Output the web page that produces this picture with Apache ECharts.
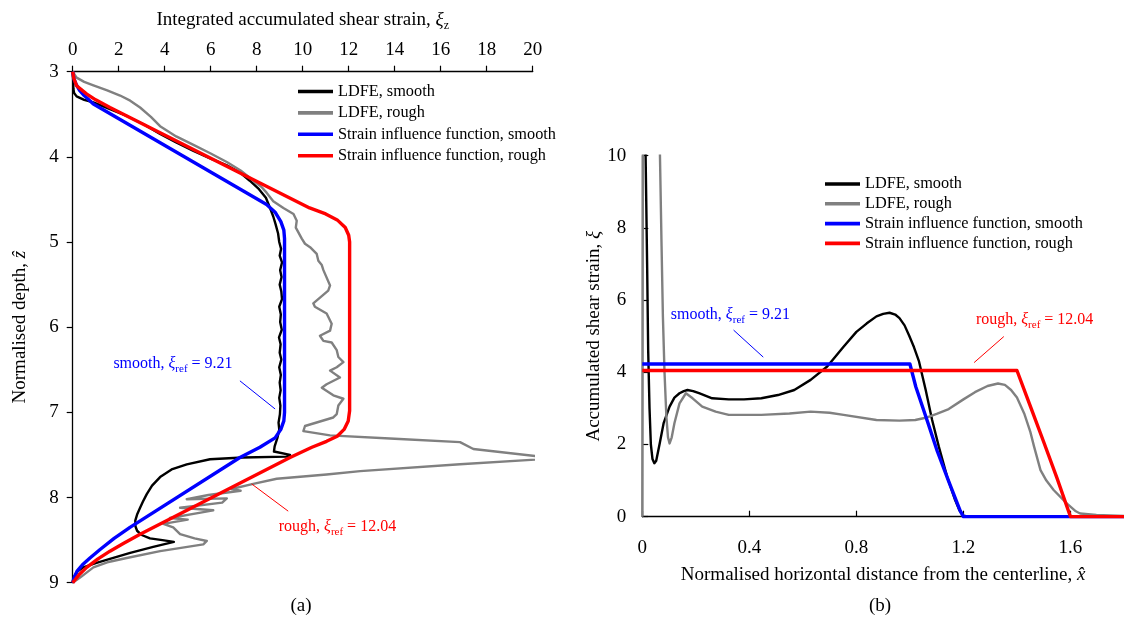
<!DOCTYPE html>
<html>
<head>
<meta charset="utf-8">
<script src="https://cdn.jsdelivr.net/npm/echarts@6/dist/echarts.min.js"></script>
<style>
html, body { margin: 0; padding: 0; background: #fff; }
#chart { width: 1124px; height: 619px; }
</style>
</head>
<body>
<div id="chart"></div>
<script>
// ---- series names and colours ----
const seriesNames = ['LDFE, smooth', 'LDFE, rough', 'Strain influence function, smooth', 'Strain influence function, rough'];
const seriesColors = ['#000000', '#808080', '#0000ff', '#ff0000'];

// ---- (a) integrated strain vs. normalised depth: [xi_z, z] ----
const aSmoothLDFE = [[0,3.0],[0.02,3.1],[0.03,3.2],[0.06,3.25],[0.17,3.29],[0.5,3.33],[0.9,3.36],[1.62,3.44],[2.35,3.52],[3.1,3.62],[3.8,3.73],[4.5,3.83],[5.25,3.93],[6.0,4.02],[6.7,4.1],[7.3,4.19],[7.7,4.28],[8.1,4.38],[8.4,4.48],[8.58,4.6],[8.72,4.7],[8.82,4.79],[8.93,4.9],[8.98,5.0],[9.06,5.08],[9.0,5.16],[9.1,5.24],[9.02,5.33],[9.08,5.41],[9.0,5.5],[9.07,5.58],[9.1,5.67],[8.98,5.76],[9.05,5.85],[9.02,5.94],[9.09,6.03],[8.97,6.12],[9.04,6.2],[9.0,6.3],[9.07,6.38],[8.98,6.47],[9.05,6.56],[9.0,6.65],[9.04,6.74],[8.98,6.83],[9.03,6.92],[9.01,7.02],[8.95,7.12],[8.98,7.2],[8.9,7.3],[8.78,7.4],[8.75,7.46],[9.45,7.5],[9.3,7.52],[7.4,7.53],[5.97,7.55],[4.96,7.61],[4.3,7.67],[3.8,7.76],[3.45,7.86],[3.22,7.96],[3.05,8.05],[2.93,8.12],[2.8,8.2],[2.72,8.27],[2.73,8.34],[2.8,8.39],[3.0,8.44],[3.36,8.48],[3.9,8.5],[4.4,8.52],[3.5,8.58],[2.5,8.65],[1.62,8.72],[1.0,8.77],[0.46,8.82],[0.2,8.87],[0.08,8.92],[0.02,8.96],[0,9.0]];
const aRoughLDFE = [[0,3.0],[0.17,3.07],[0.5,3.12],[0.9,3.16],[1.5,3.22],[2.06,3.28],[2.5,3.34],[2.93,3.42],[3.4,3.53],[3.8,3.64],[4.5,3.76],[5.25,3.86],[6.0,3.96],[6.7,4.06],[7.3,4.16],[7.86,4.28],[8.2,4.35],[8.43,4.42],[8.72,4.52],[9.16,4.6],[9.6,4.67],[9.74,4.75],[9.7,4.83],[9.96,4.96],[10.1,5.02],[10.32,5.06],[10.61,5.14],[10.68,5.22],[10.83,5.27],[10.9,5.33],[11.19,5.51],[11.11,5.57],[10.46,5.72],[10.53,5.76],[11.04,5.84],[11.26,5.96],[11.19,6.04],[10.75,6.1],[10.9,6.16],[11.26,6.18],[11.48,6.27],[11.55,6.35],[11.77,6.41],[11.48,6.47],[11.19,6.51],[11.62,6.59],[11.04,6.67],[10.83,6.71],[11.33,6.8],[11.77,6.84],[11.55,6.92],[11.48,7.02],[11.33,7.06],[10.1,7.16],[10.03,7.22],[11.19,7.27],[14.0,7.31],[16.84,7.35],[17.42,7.43],[21.0,7.54],[16.84,7.61],[12.5,7.69],[11.04,7.73],[8.87,7.78],[7.85,7.84],[6.9,7.9],[7.3,7.92],[5.9,7.97],[4.96,8.02],[6.7,8.01],[6.5,8.06],[4.67,8.12],[6.11,8.15],[5.5,8.18],[4.23,8.24],[5.0,8.26],[3.94,8.31],[4.37,8.35],[4.67,8.43],[5.3,8.48],[5.83,8.51],[5.68,8.55],[4.5,8.6],[3.8,8.63],[2.35,8.71],[1.5,8.76],[0.9,8.82],[0.32,8.94],[0,9.0]];
const aSmoothSIF = [[0,3.0],[0.05,3.08],[0.15,3.15],[0.3,3.22],[0.5,3.28],[0.9,3.38],[8.43,4.56],[8.8,4.65],[9.05,4.76],[9.18,4.86],[9.21,4.96],[9.21,7.0],[9.18,7.1],[9.05,7.2],[8.8,7.3],[8.14,7.41],[7.27,7.53],[2.49,8.35],[1.8,8.48],[1.19,8.61],[0.75,8.71],[0.46,8.78],[0.2,8.86],[0.08,8.93],[0,9.0]];
const aRoughSIF = [[0,3.0],[0.05,3.08],[0.17,3.165],[0.6,3.26],[1.0,3.33],[1.62,3.42],[10.3,4.6],[11.0,4.67],[11.5,4.74],[11.85,4.83],[12.0,4.92],[12.04,5.0],[12.04,6.98],[11.98,7.1],[11.8,7.2],[11.5,7.28],[11.04,7.34],[10.4,7.41],[9.45,7.53],[2.93,8.43],[2.2,8.54],[1.62,8.63],[1.1,8.72],[0.61,8.82],[0.3,8.9],[0.12,8.96],[0,9.0]];

// ---- (b) accumulated strain vs. horizontal distance: [x, xi] ----
const bSmoothLDFE = [[0.005,13],[0.012,10.2],[0.018,7.0],[0.022,4.6],[0.027,3.0],[0.032,2.0],[0.038,1.6],[0.045,1.48],[0.052,1.55],[0.065,2.03],[0.08,2.6],[0.102,3.05],[0.12,3.3],[0.139,3.42],[0.155,3.48],[0.169,3.51],[0.19,3.48],[0.212,3.42],[0.261,3.28],[0.323,3.25],[0.38,3.25],[0.445,3.28],[0.507,3.37],[0.568,3.51],[0.629,3.79],[0.691,4.16],[0.752,4.71],[0.8,5.12],[0.838,5.35],[0.875,5.55],[0.9,5.62],[0.924,5.65],[0.945,5.6],[0.961,5.5],[0.98,5.3],[0.997,5.02],[1.015,4.7],[1.034,4.3],[1.059,3.51],[1.083,2.68],[1.108,1.94],[1.139,1.11],[1.169,0.46],[1.185,0.18],[1.2,0.03],[1.22,0],[1.8,0]];
const bRoughLDFE = [[0,0],[0.003,13],[0.06,13],[0.066,10],[0.072,7.5],[0.077,5.54],[0.083,4.0],[0.09,2.77],[0.096,2.2],[0.102,2.03],[0.11,2.2],[0.12,2.59],[0.139,3.14],[0.163,3.42],[0.188,3.28],[0.224,3.05],[0.274,2.91],[0.323,2.82],[0.445,2.82],[0.55,2.86],[0.629,2.91],[0.7,2.88],[0.752,2.82],[0.875,2.68],[0.961,2.66],[1.02,2.68],[1.059,2.74],[1.1,2.85],[1.145,2.98],[1.2,3.25],[1.243,3.45],[1.29,3.62],[1.329,3.69],[1.355,3.65],[1.378,3.51],[1.4,3.3],[1.427,2.86],[1.45,2.35],[1.464,1.94],[1.488,1.29],[1.51,1.0],[1.537,0.74],[1.586,0.37],[1.62,0.15],[1.636,0.09],[1.697,0.05],[1.8,0.02]];
const bSmoothSIF = [[0,4.23],[1.0,4.23],[1.022,3.6],[1.065,2.65],[1.102,1.82],[1.145,0.98],[1.188,0.16],[1.2,0],[1.8,0]];
const bRoughSIF = [[0,4.05],[1.4,4.05],[1.452,3.02],[1.5,2.07],[1.55,1.06],[1.6,0],[1.8,0]];

// ---- annotation text, anchor and leader-line ends in data units ----
const annotations = [
  { grid: 0, color: '#0000ff', label: 'smooth', value: '9.21', text: [4.36, 6.43], from: [7.27, 6.63], to: [8.8, 6.96] },
  { grid: 0, color: '#ff0000', label: 'rough', value: '12.04', text: [11.51, 8.34], from: [7.78, 7.84], to: [9.37, 8.16] },
  { grid: 1, color: '#0000ff', label: 'smooth', value: '9.21', text: [0.329, 5.59], from: [0.341, 5.17], to: [0.452, 4.42] },
  { grid: 1, color: '#ff0000', label: 'rough', value: '12.04', text: [1.466, 5.45], from: [1.351, 4.99], to: [1.240, 4.27] }
];

const FONT = 'Liberation Serif';
const nameRich = {
  n: { fontFamily: FONT, fontSize: 19, color: '#000', lineHeight: 24 },
  i: { fontFamily: FONT, fontSize: 19, color: '#000', fontStyle: 'italic', lineHeight: 24 },
  s: { fontFamily: FONT, fontSize: 12, color: '#000', lineHeight: 12, verticalAlign: 'bottom' }
};

function axisBase(inside, labelMargin) {
  return {
    type: 'value',
    axisLine: { show: true, onZero: false, lineStyle: { color: '#000', width: 1.3 } },
    axisTick: { show: true, inside: inside, length: 6, lineStyle: { color: '#000', width: 1.2 } },
    axisLabel: { fontFamily: FONT, fontSize: 19, color: '#000', margin: labelMargin },
    splitLine: { show: false },
    nameLocation: 'middle',
    nameTextStyle: { rich: nameRich }
  };
}

const lineWidths = [2.4, 2.4, 3.4, 3.4];
const panelA = [aSmoothLDFE, aRoughLDFE, aSmoothSIF, aRoughSIF];
const panelB = [bSmoothLDFE, bRoughLDFE, bSmoothSIF, bRoughSIF];

const series = [];
[panelA, panelB].forEach(function (panel, g) {
  panel.forEach(function (data, k) {
    series.push({
      name: seriesNames[k],
      type: 'line',
      xAxisIndex: g,
      yAxisIndex: g,
      data: data,
      symbol: 'none',
      clip: true,
      silent: true,
      color: seriesColors[k],
      lineStyle: { color: seriesColors[k], width: lineWidths[k], join: 'round' },
      emphasis: { disabled: true }
    });
  });
});

function legendAt(left, top, gap) {
  return {
    data: seriesNames,
    orient: 'vertical',
    left: left,
    top: top,
    padding: 0,
    icon: 'rect',
    itemWidth: 35,
    itemHeight: 3.6,
    itemGap: gap,
    selectedMode: false,
    textStyle: { fontFamily: FONT, fontSize: 16.3, color: '#000' }
  };
}

const option = {
  animation: false,
  backgroundColor: '#fff',
  textStyle: { fontFamily: FONT },
  grid: [
    { left: 72.7, top: 71.7, width: 460, height: 511 },
    { left: 642.3, top: 155.7, width: 489, height: 361 }
  ],
  xAxis: [
    Object.assign(axisBase(false, 12), {
      gridIndex: 0, position: 'top', min: 0, max: 20, interval: 2,
      name: '{n|Integrated accumulated shear strain, }{i|ξ}{s|z}', nameGap: 40
    }),
    Object.assign(axisBase(true, 22), {
      gridIndex: 1, position: 'bottom', min: 0, max: 1.8, interval: 0.4,
      name: '{n|Normalised horizontal distance from the centerline, }{i|x̂}', nameGap: 46
    })
  ],
  yAxis: [
    Object.assign(axisBase(false, 14), {
      gridIndex: 0, inverse: true, min: 3, max: 9, interval: 1,
      name: '{n|Normalised depth, }{i|ẑ}', nameGap: 41
    }),
    Object.assign(axisBase(true, 16), {
      gridIndex: 1, min: 0, max: 10, interval: 2,
      name: '{n|Accumulated shear strain, }{i|ξ}', nameGap: 32
    })
  ],
  legend: [legendAt(298, 83.5, 5.4), legendAt(825, 176, 3.8)],
  series: series
};
option.xAxis[1].axisLabel.showMaxLabel = false;

const chart = echarts.init(document.getElementById('chart'), null, { renderer: 'canvas' });
chart.setOption(option);

// annotations placed through the axes' own scales
const graphics = [];
annotations.forEach(function (a) {
  const p = chart.convertToPixel({ gridIndex: a.grid }, a.text);
  const f = chart.convertToPixel({ gridIndex: a.grid }, a.from);
  const t = chart.convertToPixel({ gridIndex: a.grid }, a.to);
  graphics.push({
    type: 'line', silent: true, z: 10,
    shape: { x1: f[0], y1: f[1], x2: t[0], y2: t[1] },
    style: { stroke: a.color, lineWidth: 1 }
  });
  graphics.push({
    type: 'text', silent: true, z: 10,
    x: p[0], y: p[1],
    style: {
      text: '{t|' + a.label + ', }{i|ξ}{s|ref}{t| = ' + a.value + '}',
      align: 'center', verticalAlign: 'middle',
      rich: {
        t: { fontFamily: FONT, fontSize: 16, fill: a.color, lineHeight: 22 },
        i: { fontFamily: FONT, fontSize: 16, fill: a.color, fontStyle: 'italic', lineHeight: 22 },
        s: { fontFamily: FONT, fontSize: 11, fill: a.color, lineHeight: 11, verticalAlign: 'bottom' }
      }
    }
  });
});
// panel captions
graphics.push({ type: 'text', silent: true, x: 301, y: 606, style: { text: '(a)', fontFamily: FONT, fontSize: 19, fill: '#000', align: 'center', verticalAlign: 'middle' } });
graphics.push({ type: 'text', silent: true, x: 880, y: 606, style: { text: '(b)', fontFamily: FONT, fontSize: 19, fill: '#000', align: 'center', verticalAlign: 'middle' } });
chart.setOption({ graphic: graphics });
</script>
</body>
</html>
